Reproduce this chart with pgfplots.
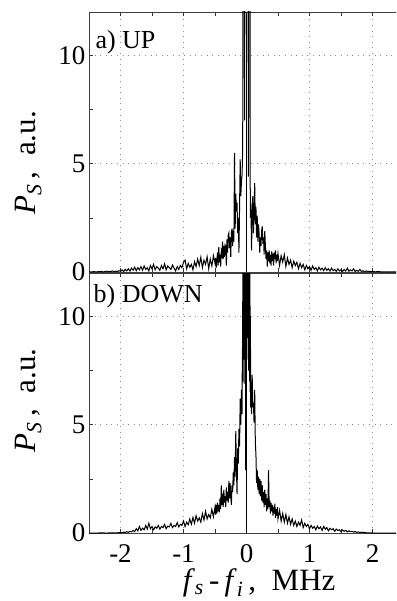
\documentclass[border=0pt]{standalone}
\usepackage{pgfplots}
\pgfplotsset{compat=1.18}
\usepackage{pgfplotstable}
\usepackage{fontspec}
\setmainfont{Liberation Serif}

\pgfplotstableread{
x y
-2.500 0.00
-2.475 0.01
-2.450 0.00
-2.425 0.02
-2.400 0.01
-2.375 0.00
-2.350 0.02
-2.325 0.01
-2.300 0.03
-2.275 0.00
-2.250 0.02
-2.225 0.04
-2.200 0.01
-2.175 0.03
-2.150 0.02
-2.125 0.05
-2.100 0.01
-2.075 0.04
-2.050 0.02
-2.025 0.06
-2.000 0.03
-1.975 0.10
-1.950 0.02
-1.925 0.12
-1.900 0.05
-1.875 0.15
-1.850 0.04
-1.825 0.18
-1.800 0.08
-1.775 0.22
-1.750 0.06
-1.725 0.20
-1.700 0.10
-1.675 0.25
-1.650 0.08
-1.625 0.28
-1.600 0.12
-1.575 0.20
-1.550 0.05
-1.525 0.30
-1.500 0.15
-1.475 0.35
-1.450 0.10
-1.425 0.25
-1.400 0.18
-1.375 0.08
-1.350 0.30
-1.325 0.15
-1.300 0.38
-1.275 0.10
-1.250 0.28
-1.225 0.20
-1.200 0.12
-1.175 0.32
-1.150 0.18
-1.125 0.05
-1.100 0.25
-1.075 0.12
-1.050 0.30
-1.025 0.20
-1.000 0.45
-0.975 0.55
-0.950 0.15
-0.925 0.40
-0.900 0.22
-0.875 0.35
-0.850 0.10
-0.825 0.48
-0.800 0.25
-0.775 0.60
-0.750 0.30
-0.725 0.68
-0.700 0.20
-0.675 0.55
-0.650 0.35
-0.625 0.70
-0.600 0.15
-0.575 0.60
-0.550 0.28
-0.525 0.75
-0.500 0.40
-0.49 0.65
-0.48 0.20
-0.47 0.55
-0.46 0.90
-0.45 0.30
-0.44 1.15
-0.43 0.45
-0.42 0.80
-0.41 0.25
-0.40 0.95
-0.39 0.80
-0.38 1.40
-0.37 0.60
-0.36 1.20
-0.35 0.70
-0.34 1.25
-0.33 1.20
-0.32 0.30
-0.31 1.50
-0.30 0.90
-0.29 1.70
-0.28 1.80
-0.27 1.10
-0.26 1.60
-0.25 0.70
-0.24 1.80
-0.23 2.00
-0.22 1.20
-0.21 1.90
-0.20 1.40
-0.19 5.50
-0.18 2.00
-0.17 3.60
-0.16 2.80
-0.15 3.20
-0.14 1.80
-0.13 2.50
-0.12 0.90
-0.11 3.00
-0.10 5.20
-0.09 3.50
-0.08 4.20
-0.07 4.50
-0.06 5.80
-0.05 30
-0.04 18
-0.03 7.0
-0.02 25
-0.01 40
0.00 60
0.01 45
0.02 28
0.03 4.4
0.04 20
0.05 30
0.06 2.5
0.07 3.2
0.08 1.0
0.09 2.6
0.10 3.5
0.11 1.8
0.12 2.8
0.13 4.1
0.14 2.2
0.15 3.0
0.16 1.6
0.17 2.6
0.18 1.4
0.19 2.2
0.20 1.8
0.21 0.9
0.22 1.6
0.23 1.2
0.24 1.9
0.25 2.1
0.26 1.3
0.27 1.6
0.28 0.8
0.29 1.9
0.30 1.2
0.31 0.6
0.32 1.0
0.33 0.25
0.34 0.9
0.35 0.5
0.36 1.0
0.37 0.4
0.38 0.8
0.39 0.3
0.40 0.95
0.41 0.5
0.42 0.85
0.43 0.3
0.44 0.9
0.45 0.6
0.46 1.0
0.47 0.4
0.48 0.8
0.49 0.5
0.500 0.85
0.525 0.3
0.550 0.75
0.575 0.45
0.600 0.80
0.625 0.25
0.650 0.65
0.675 0.35
0.700 0.55
0.725 0.20
0.750 0.50
0.775 0.30
0.800 0.45
0.825 0.15
0.850 0.40
0.875 0.20
0.900 0.35
0.925 0.10
0.950 0.30
0.975 0.15
1.000 0.25
1.025 0.08
1.050 0.28
1.075 0.12
1.100 0.20
1.125 0.05
1.150 0.22
1.175 0.10
1.200 0.18
1.225 0.06
1.250 0.20
1.275 0.08
1.300 0.15
1.325 0.04
1.350 0.18
1.375 0.06
1.400 0.12
1.425 0.03
1.450 0.15
1.475 0.05
1.500 0.10
1.525 0.02
1.550 0.12
1.575 0.04
1.600 0.18
1.625 0.03
1.650 0.10
1.675 0.05
1.700 0.15
1.725 0.02
1.750 0.08
1.775 0.03
1.800 0.12
1.825 0.02
1.850 0.06
1.875 0.01
1.900 0.05
1.925 0.02
1.950 0.03
1.975 0.01
2.000 0.02
2.050 0.01
2.100 0.02
2.150 0.00
2.200 0.01
2.250 0.00
2.300 0.01
2.350 0.00
2.400 0.01
2.450 0.00
2.500 0.00
}\up

\pgfplotstableread{
x y
-2.500 0.00
-2.450 0.00
-2.400 0.00
-2.350 0.00
-2.300 0.01
-2.250 0.00
-2.200 0.00
-2.150 0.01
-2.100 0.00
-2.050 0.01
-2.000 0.02
-1.975 0.01
-1.950 0.04
-1.925 0.02
-1.900 0.06
-1.875 0.03
-1.850 0.08
-1.825 0.05
-1.800 0.12
-1.775 0.06
-1.750 0.20
-1.725 0.10
-1.700 0.30
-1.675 0.12
-1.650 0.22
-1.625 0.15
-1.600 0.35
-1.575 0.18
-1.550 0.45
-1.525 0.20
-1.500 0.30
-1.475 0.15
-1.450 0.28
-1.425 0.22
-1.400 0.35
-1.375 0.18
-1.350 0.30
-1.325 0.25
-1.300 0.40
-1.275 0.20
-1.250 0.32
-1.225 0.28
-1.200 0.45
-1.175 0.25
-1.150 0.35
-1.125 0.30
-1.100 0.48
-1.075 0.28
-1.050 0.40
-1.025 0.35
-1.000 0.55
-0.975 0.30
-0.950 0.50
-0.925 0.38
-0.900 0.65
-0.875 0.40
-0.850 0.72
-0.825 0.45
-0.800 0.80
-0.775 0.55
-0.750 0.70
-0.725 0.50
-0.700 0.90
-0.675 0.60
-0.650 1.00
-0.625 0.65
-0.600 0.85
-0.575 0.70
-0.550 1.10
-0.525 0.75
-0.500 1.20
-0.49 0.85
-0.48 1.30
-0.47 0.90
-0.46 1.40
-0.45 1.00
-0.44 1.30
-0.43 0.95
-0.42 1.60
-0.41 1.10
-0.40 2.20
-0.39 1.30
-0.38 1.80
-0.37 1.20
-0.36 2.00
-0.35 1.40
-0.34 1.70
-0.33 1.20
-0.32 2.10
-0.31 1.50
-0.30 1.90
-0.29 1.40
-0.28 2.40
-0.27 1.60
-0.26 2.30
-0.25 1.70
-0.24 1.30
-0.23 2.20
-0.22 1.90
-0.21 2.80
-0.20 2.20
-0.19 3.50
-0.18 2.60
-0.17 4.70
-0.16 3.00
-0.15 1.80
-0.14 3.90
-0.13 3.20
-0.12 4.80
-0.11 4.00
-0.10 6.20
-0.09 5.00
-0.08 6.60
-0.07 5.50
-0.066 8.5
-0.062 7.0
-0.058 13
-0.054 8
-0.050 15
-0.046 9
-0.042 16
-0.038 6.9
-0.034 18
-0.030 10
-0.026 20
-0.022 8
-0.018 22
-0.014 2.9
-0.010 25
-0.006 12
-0.002 30
0.002 14
0.006 28
0.010 11
0.014 25
0.018 9
0.022 22
0.026 8
0.030 19
0.034 7.5
0.038 17
0.042 9
0.046 15
0.050 7
0.054 13
0.058 6.5
0.062 10
0.066 5.8
0.07 7.0
0.08 5.5
0.09 7.3
0.10 5.8
0.11 6.0
0.12 5.1
0.13 6.6
0.14 4.2
0.15 3.6
0.16 2.3
0.17 2.9
0.18 2.0
0.19 2.6
0.20 1.8
0.21 2.5
0.22 1.7
0.23 2.4
0.24 1.5
0.25 2.2
0.26 1.4
0.27 1.9
0.28 1.2
0.29 2.0
0.30 1.3
0.31 1.8
0.32 1.0
0.33 1.6
0.34 1.1
0.35 2.9
0.36 1.2
0.37 1.5
0.38 0.9
0.39 1.4
0.40 1.0
0.41 1.3
0.42 0.8
0.43 1.2
0.44 0.9
0.45 1.35
0.46 0.7
0.47 1.1
0.48 0.8
0.49 1.2
0.500 0.65
0.525 1.05
0.550 0.55
0.575 0.90
0.600 0.50
0.625 0.85
0.650 0.45
0.675 0.75
0.700 0.40
0.725 0.65
0.750 0.35
0.775 0.55
0.800 0.30
0.825 0.50
0.850 0.35
0.875 0.60
0.900 0.25
0.925 0.45
0.950 0.30
0.975 0.40
1.000 0.20
1.025 0.35
1.050 0.22
1.075 0.30
1.100 0.15
1.125 0.32
1.150 0.20
1.175 0.28
1.200 0.12
1.225 0.30
1.250 0.18
1.275 0.25
1.300 0.10
1.325 0.22
1.350 0.15
1.375 0.20
1.400 0.08
1.425 0.18
1.450 0.12
1.475 0.15
1.500 0.06
1.525 0.14
1.550 0.08
1.575 0.12
1.600 0.05
1.625 0.10
1.650 0.06
1.675 0.08
1.700 0.04
1.725 0.07
1.750 0.03
1.775 0.05
1.800 0.02
1.825 0.04
1.850 0.02
1.875 0.03
1.900 0.01
1.950 0.01
2.000 0.00
2.100 0.00
2.200 0.00
2.300 0.00
2.400 0.00
2.500 0.00
}\down

\pgfplotsset{
  spec/.style={
    width=315pt, height=260pt, scale only axis,
    xmin=-2.5, xmax=2.5, ymin=0, ymax=12,
    xtick={-2,-1,0,1,2},
    ytick={0,5,10}, yticklabels={0,5,10},
    minor x tick num=1, minor y tick num=1,
    major tick length=4pt, minor tick length=4pt,
    tick style={black!80, line width=0.6pt},
    axis line style={black!75, line width=0.7pt},
    grid=major,
    major grid style={dash pattern=on 0.6pt off 5pt, black!45, line width=0.6pt},
    ticklabel style={font=\fontsize{27}{30}\selectfont},
    label style={font=\fontsize{31}{34}\selectfont},
    clip=true,
  },
}

\begin{document}
\begin{tikzpicture}
\path[use as bounding box, clip] (0,0) rectangle (396pt,-601pt);
\begin{axis}[spec,
  at={(89pt,-272pt)}, anchor=south west,
  xticklabels={},
  ylabel={\textit{P}\textsubscript{\textit{S}}\,,\ \ a.u.},
  every axis y label/.append style={at={(ticklabel cs:0.42)}, yshift=10pt},
]
\addplot[black, line width=1.0pt] table[x=x,y=y] {\up};
\addplot[black, line width=0.6pt] coordinates {(0,0) (0,12)};
\node[anchor=base west, inner sep=0pt, font=\fontsize{26}{28}\selectfont] at (axis cs:-2.40,10.32) {a) UP};
\end{axis}
\begin{axis}[spec,
  at={(89pt,-533pt)}, anchor=south west,
  xticklabels={-2,-1,0,1,2},
  xticklabel style={yshift=-8pt},
  ylabel={\textit{P}\textsubscript{\textit{S}}\,,\ \ a.u.},
  every axis y label/.append style={at={(ticklabel cs:0.51)}, yshift=10pt},
  xlabel={\textit{f}\textsubscript{\textit{s}}\,-\,\textit{f}\textsubscript{\textit{i}}\,,\ \ MHz},
  every axis x label/.append style={at={(ticklabel cs:0.54)}, yshift=1pt},
]
\addplot[black, line width=1.0pt] table[x=x,y=y] {\down};
\addplot[black, line width=0.6pt] coordinates {(0,0) (0,12)};
\node[anchor=base west, inner sep=0pt, font=\fontsize{26}{28}\selectfont] at (axis cs:-2.43,10.65) {b) DOWN};
\end{axis}
\end{tikzpicture}
\end{document}
